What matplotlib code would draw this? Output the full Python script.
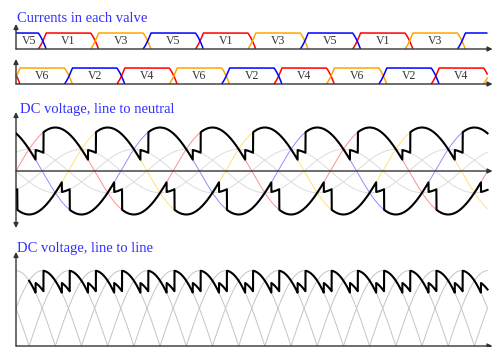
import numpy as np
import matplotlib
matplotlib.use('Agg')
import matplotlib.pyplot as plt

# bridge operating point (degrees)
alpha = 15.0        # firing delay after natural commutation
mu = 18.0           # overlap angle
valve_shift = 6.0   # current traces lag the voltage traces a little
cycles = 3

phase_colors = ['#ff0000', '#ffa500', '#0000ff']
phase_light = ['#ff8f8f', '#ffe27a', '#8f8fff']
upper_valves = ['V1', 'V3', 'V5']
lower_valves = ['V4', 'V6', 'V2']
titles = ['Currents in each valve', 'DC voltage, line to neutral', 'DC voltage, line to line']
ll_start = 30.0

W, H = 493, 347
x0_px, deg_px = 16, 0.4366
amp_px = 43.5

plt.rcParams['font.family'] = ['Liberation Serif', 'DejaVu Serif']

theta = np.linspace(0, 360 * cycles, 6001)
end = 360 * cycles


def vph(k, th):
    return np.sin(np.radians(th - 120 * k))


def stage(th, nat0, inc0):
    t = th - nat0 - alpha
    j = np.floor(t / 120).astype(int)
    u = t - 120 * j
    inc = (j + inc0) % 3
    out = (inc - 1) % 3
    return inc, out, u


def rail(th, nat0, inc0):
    inc, out, u = stage(th, nat0, inc0)
    v_in = vph(inc, th)
    v_out = vph(out, th)
    return np.where(u < mu, 0.5 * (v_in + v_out), v_in)


def ramp(u):
    a = np.radians(alpha)
    m = np.radians(mu)
    return (np.cos(a) - np.cos(a + np.radians(u))) / (np.cos(a) - np.cos(a + m))


def valve_current(k, th, nat0, inc0):
    inc, out, u = stage(th - valve_shift, nat0, inc0)
    i = np.zeros_like(th)
    i[(inc == k) & (u >= mu)] = 1.0
    on = (inc == k) & (u < mu)
    i[on] = ramp(u[on])
    off = (out == k) & (u < mu)
    i[off] = 1.0 - ramp(u[off])
    return i


def valve_labels(nat0, inc0):
    # one label per conduction interval, between commutation midpoints
    mid = nat0 + alpha + mu / 2 + valve_shift
    out = []
    for j in range(-2, cycles * 3 + 2):
        a = max(mid + 120 * j, 0)
        b = min(mid + 120 * (j + 1), end)
        if b - a < 40 or (b == end and b - a < 100):
            continue
        out.append(((a + b) / 2, (j + inc0) % 3))
    return out


fig = plt.figure(figsize=(W / 100, H / 100), dpi=100)
xmax = (W - x0_px) / deg_px


def place(top, bot, base, scale):
    ax = fig.add_axes([x0_px / W, 1 - bot / H, (W - x0_px) / W, (bot - top) / H])
    ax.set_xlim(0, xmax)
    ax.set_ylim((base - bot) / scale, (base - top) / scale)
    ax.axis('off')
    return ax


def h_arrow(ax):
    ax.annotate('', xy=(0.999, 0), xytext=(0, 0),
                xycoords=('axes fraction', 'data'),
                arrowprops=dict(arrowstyle='-|>', color='#333333', lw=1.0,
                                mutation_scale=7, shrinkA=0, shrinkB=0),
                zorder=5, annotation_clip=False)


def v_arrow(ax, lo, hi, style='-|>'):
    ax.annotate('', xy=(0, hi), xytext=(0, lo),
                arrowprops=dict(arrowstyle=style, color='#333333', lw=1.0,
                                mutation_scale=7, shrinkA=0, shrinkB=0),
                zorder=5, annotation_clip=False)


# valve currents, upper and lower rail
for (top, bot, base, nat0, inc0, names) in [(21, 53, 49, 30, 0, upper_valves),
                                           (56, 88, 84, 90, 2, lower_valves)]:
    ax = place(top, bot, base, 16)
    for k in range(3):
        i = valve_current(k, theta, nat0, inc0)
        ax.plot(theta, np.where(i > 0, i, np.nan), color=phase_colors[k],
                lw=1.1, solid_capstyle='butt', clip_on=False)
    for xc, k in valve_labels(nat0, inc0):
        ax.text(xc, 0.5, names[k], ha='center', va='center', fontsize=8.5,
                color='#333333')
    h_arrow(ax)
    v_arrow(ax, 0, (base - top - 3) / 16)

# line-to-neutral voltages
ax = place(108, 232, 171, amp_px)
for k in range(3):
    ax.plot(theta, -0.5 * vph(k, theta), color='#dcdcdc', lw=0.7)
for k in range(3):
    ax.plot(theta, vph(k, theta), color=phase_light[k], lw=0.7)
h_arrow(ax)
v_arrow(ax, (171 - 228) / amp_px, (171 - 112) / amp_px, style='<|-|>')
upper = rail(theta, 30, 0)
lower = rail(theta, 90, 2)
ax.plot(theta, upper, color='black', lw=1.5, zorder=6)
ax.plot(theta, lower, color='black', lw=1.5, zorder=6)

# line-to-line voltage
ax = place(248, 347, 346, amp_px)
for p in range(3):
    for q in range(3):
        if p != q:
            v = vph(p, theta) - vph(q, theta)
            ax.plot(theta, np.where(v >= 0, v, np.nan), color='#c4c4c4', lw=0.7)
h_arrow(ax)
v_arrow(ax, 0, (346 - 252) / amp_px)
sel = theta >= ll_start
ax.plot(theta[sel], (upper - lower)[sel], color='black', lw=1.5, zorder=6)

for (x, y), t in zip([(17, 21.7), (20, 113), (17, 252)], titles):
    fig.text(x / W, 1 - y / H, t, color='#3030ff', fontsize=10.5, va='baseline')

fig.savefig('out.png', dpi=100)
